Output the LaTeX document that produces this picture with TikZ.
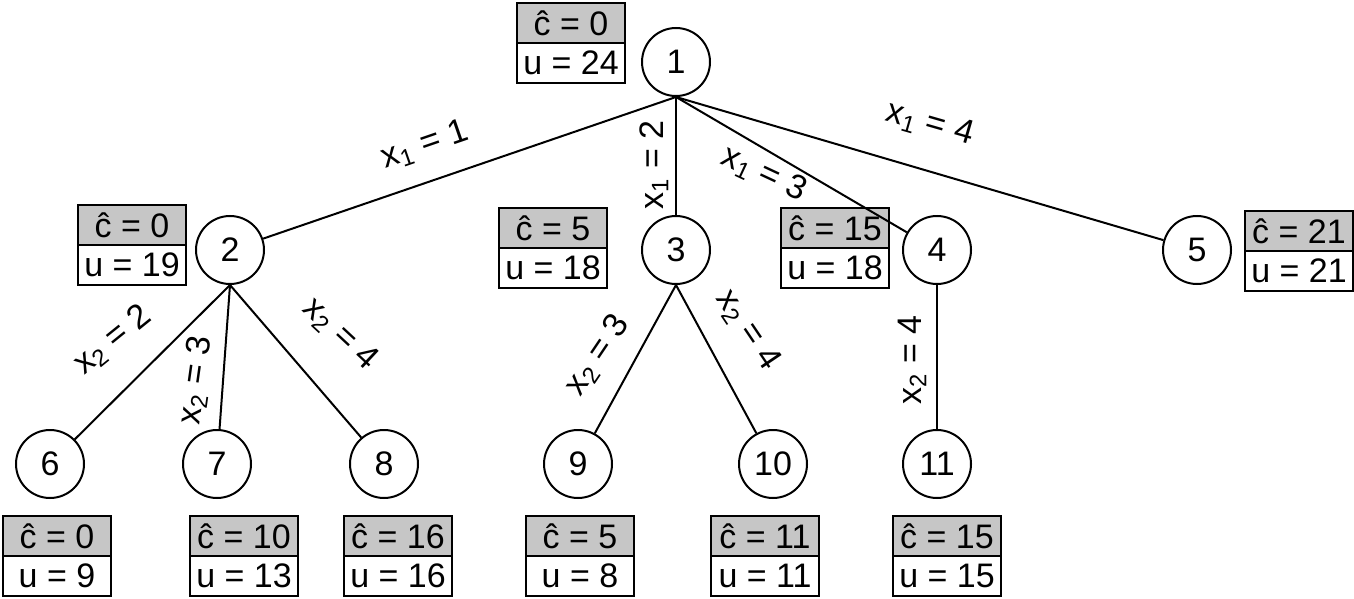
\documentclass[tikz,border=0pt]{standalone}
\usepackage{fontspec}
\setmainfont{Liberation Sans}
\begin{document}
\begin{tikzpicture}[x=0.5pt,y=-0.5pt,
  nd/.style={circle,draw,line width=1pt,minimum size=34pt,inner sep=0pt,font=\fontsize{17}{20}\selectfont},
  bt/.style={draw,line width=1pt,fill=gray!45,minimum width=54pt,minimum height=20pt,inner sep=0pt,anchor=north west,font=\fontsize{17}{20}\selectfont},
  bb/.style={draw,line width=1pt,fill=white,minimum width=54pt,minimum height=20pt,inner sep=0pt,anchor=north west,font=\fontsize{17}{20}\selectfont},
  lb/.style={font=\fontsize{17}{20}\selectfont,inner sep=1pt},
  ed/.style={line width=1pt}]
\useasboundingbox (0,0) rectangle (1354,599);
\node[nd] (n1) at (676,62) {1};
\node[nd] (n2) at (230,250) {2};
\node[nd] (n3) at (676,250) {3};
\node[nd] (n4) at (937,250) {4};
\node[nd] (n5) at (1197,250) {5};
\node[nd] (n6) at (50,464) {6};
\node[nd] (n7) at (217,464) {7};
\node[nd] (n8) at (384,464) {8};
\node[nd] (n9) at (578,464) {9};
\node[nd] (n10) at (773,464) {10};
\node[nd] (n11) at (937,464) {11};
\newcommand{\cbox}[5]{%
  \node[bt] (#1t) at (#2,#3) {\^c = #4};
  \node[bb] (#1b) at (#2,#3+40) {u = #5};}
\cbox{b1}{516}{2}{0}{24}
\cbox{b2}{77}{204}{0}{19}
\cbox{b3}{498}{207}{5}{18}
\cbox{b4}{780}{207}{15}{18}
\cbox{b5}{1244}{210}{21}{21}
\cbox{b6}{2}{515}{0}{9}
\cbox{b7}{189}{515}{10}{13}
\cbox{b8}{343}{515}{16}{16}
\cbox{b9}{525}{515}{5}{8}
\cbox{b10}{710}{515}{11}{11}
\cbox{b11}{892}{515}{15}{15}
\foreach \c in {n2,n3,n4,n5} \draw[ed] (n1.south) -- (\c);
\foreach \c in {n6,n7,n8} \draw[ed] (n2.south) -- (\c);
\foreach \c in {n9,n10} \draw[ed] (n3.south) -- (\c);
\draw[ed] (n4.south) -- (n11);
\node[lb,rotate=19] (l1) at (425,145) {x\textsubscript{1} = 1};
\node[lb,rotate=90] (l2) at (654,165) {x\textsubscript{1} = 2};
\node[lb,rotate=-25] (l3) at (764,174) {x\textsubscript{1} = 3};
\node[lb,rotate=-16] (l4) at (930,124) {x\textsubscript{1} = 4};
\node[lb,rotate=39] (l5) at (113,340) {x\textsubscript{2} = 2};
\node[lb,rotate=82] (l6) at (196,380) {x\textsubscript{2} = 3};
\node[lb,rotate=-43] (l7) at (340,334) {x\textsubscript{2} = 4};
\node[lb,rotate=56] (l8) at (598,355) {x\textsubscript{2} = 3};
\node[lb,rotate=-56] (l9) at (748,330) {x\textsubscript{2} = 4};
\node[lb,rotate=90] (l10) at (912,360) {x\textsubscript{2} = 4};
\end{tikzpicture}
\end{document}
